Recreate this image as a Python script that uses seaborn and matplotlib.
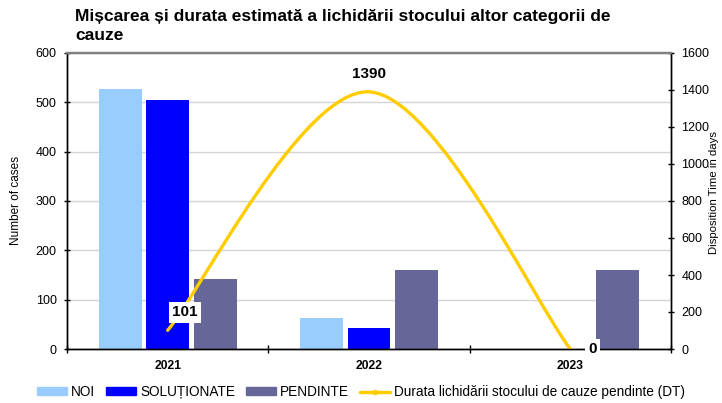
import numpy as np
import pandas as pd
import seaborn as sns
import matplotlib.pyplot as plt
from matplotlib.path import Path
from matplotlib.patches import PathPatch, Patch
from matplotlib.lines import Line2D

# data
years = ["2021", "2022", "2023"]
noi = [528, 63, 0]
solutionate = [504, 43, 0]
pendinte = [141, 160, 160]
dt_days = [101, 1390, 0]

series_names = ["NOI", "SOLUȚIONATE", "PENDINTE"]
series_colors = ["#99CCFF", "#0000FF", "#666699"]
line_name = "Durata lichidării stocului de cauze pendinte (DT)"
line_color = "#FFCC00"
title = "Mișcarea și durata estimată a lichidării stocului altor categorii de\ncauze"


def smooth_path(xs, ys):
    # Excel-like smoothed line: cubic bezier with control points from neighbours
    pts = np.column_stack([xs, ys]).astype(float)
    n = len(pts)
    verts = [pts[0]]
    codes = [Path.MOVETO]
    for i in range(n - 1):
        p_prev = pts[max(i - 1, 0)]
        p_next = pts[min(i + 2, n - 1)]
        c1 = pts[i] + (pts[i + 1] - p_prev) / 6
        c2 = pts[i + 1] - (p_next - pts[i]) / 6
        verts += [c1, c2, pts[i + 1]]
        codes += [Path.CURVE4] * 3
    return Path(verts, codes)


if __name__ == "__main__":
    df = pd.DataFrame({
        "year": years * 3,
        "series": np.repeat(series_names, len(years)),
        "cases": noi + solutionate + pendinte,
    })

    sns.set_theme(style="white")
    plt.rcParams["font.family"] = ["Liberation Sans", "DejaVu Sans"]
    plt.rcParams.update({"text.color": "black", "axes.labelcolor": "black",
                         "xtick.color": "black", "ytick.color": "black"})

    fig = plt.figure(figsize=(7.22, 4.03), dpi=100)
    ax = fig.add_axes([67 / 722, 1 - 349 / 403, 604 / 722, 296 / 403])

    sns.barplot(data=df, x="year", y="cases", hue="series", hue_order=series_names,
                palette=series_colors, width=0.708, gap=0.1, linewidth=0,
                saturation=1, legend=False, ax=ax)

    ax.set_xlim(-0.5, 2.5)
    ax.set_ylim(0, 600)
    ax.set_yticks(range(0, 601, 100))
    ax.yaxis.grid(True, color="#d4d4d4", lw=1)
    ax.set_axisbelow(True)
    ax.set_xlabel("")
    ax.set_ylabel("Number of cases", fontsize=8.5)
    ax.yaxis.set_label_coords(-0.074, 0.5)

    ax.set_xticks([0, 1, 2])
    ax.set_xticklabels(years, fontweight="bold", fontsize=8.7)
    ax.set_xticks([-0.5, 0.5, 1.5, 2.5], minor=True)
    ax.tick_params(axis="x", which="major", bottom=True, length=0, pad=8)
    ax.tick_params(axis="x", which="minor", bottom=True, direction="inout", length=6, width=1, color="black")
    ax.tick_params(axis="y", left=True, direction="inout", length=5, width=1, color="black", labelsize=9, pad=5)

    # right axis for disposition time
    ax2 = ax.twinx()
    ax2.set_ylim(0, 1600)
    ax2.set_yticks(range(0, 1601, 200))
    ax2.grid(False)
    ax2.tick_params(axis="y", right=True, direction="inout", length=5, width=1, color="black", labelsize=9, pad=5)
    ax2.set_ylabel("Disposition Time in days", fontsize=8.2)
    ax2.yaxis.set_label_coords(1.063, 0.53)

    ax2.add_patch(PathPatch(smooth_path(range(len(years)), dt_days), fill=False,
                            edgecolor=line_color, lw=2.4, capstyle="round", zorder=2))

    for a in (ax, ax2):
        for side in ("left", "right", "bottom"):
            a.spines[side].set_color("black")
            a.spines[side].set_linewidth(1)
        a.spines["top"].set_color("#808080")
        a.spines["top"].set_linewidth(1.6)

    # data labels
    label_offsets = [(17, 18), (0, 18), (22, 0)]
    for i, (val, off) in enumerate(zip(dt_days, label_offsets)):
        ax2.annotate(str(val), xy=(i, val), xytext=off, textcoords="offset pixels",
                     ha="center", va="center", fontsize=11, fontweight="bold",
                     bbox=dict(boxstyle="square,pad=0.22", fc="white", ec="none"),
                     zorder=5, annotation_clip=False)

    fig.text(75 / 722, 1 - 9 / 403, title, ha="left", va="top",
             fontsize=12.5, fontweight="bold", linespacing=1.3)

    handles = [Patch(color=c, label=n) for c, n in zip(series_colors, series_names)]
    handles.append(Line2D([], [], color=line_color, lw=2.5, marker="o", markersize=3, label=line_name))
    fig.legend(handles=handles, loc="center", bbox_to_anchor=(0.5, 1 - 392 / 403),
               ncol=4, frameon=False, fontsize=9.8, handlelength=2.2, handleheight=0.5,
               handletextpad=0.3, columnspacing=0.8, borderaxespad=0, borderpad=0)

    fig.savefig("out.png", dpi=100)
